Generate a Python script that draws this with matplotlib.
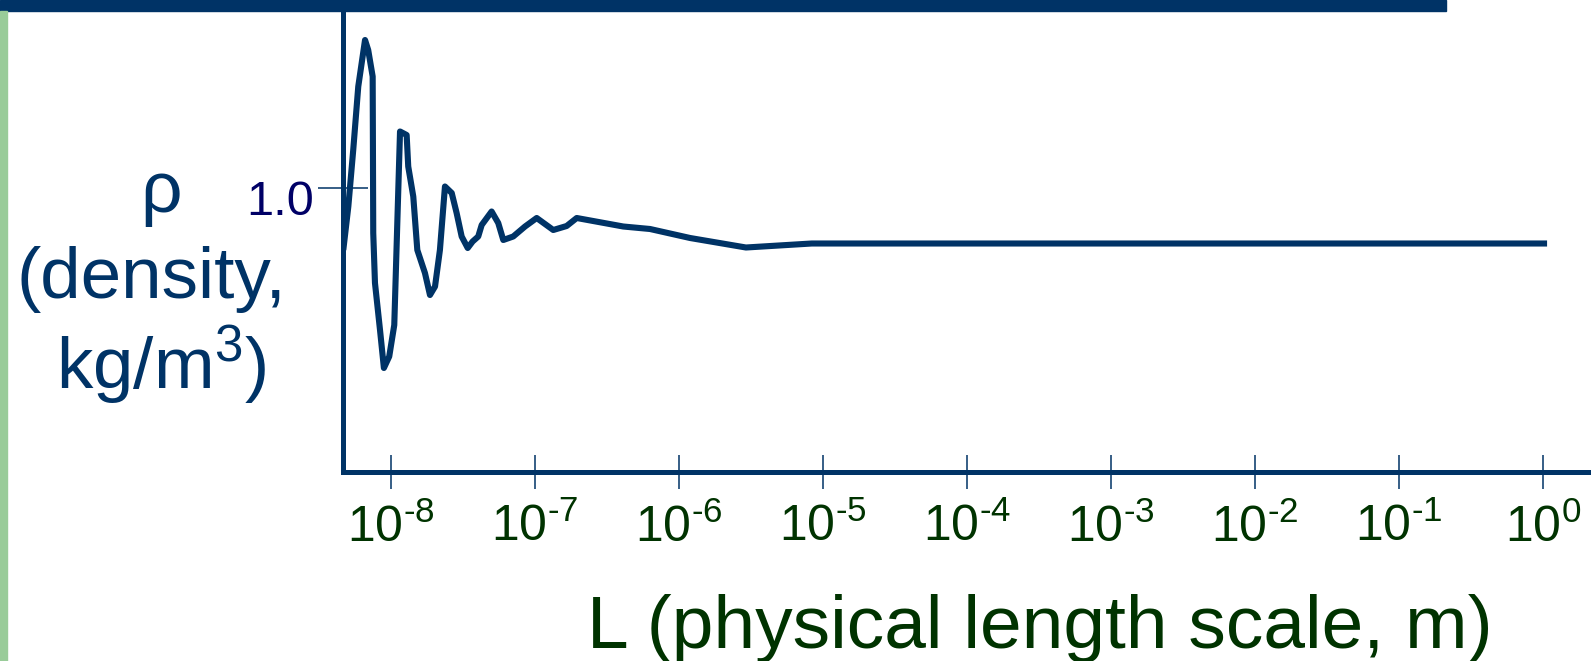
import matplotlib
matplotlib.use('Agg')
import matplotlib.pyplot as plt
import matplotlib.transforms as mtransforms
from matplotlib.patches import Rectangle
import numpy as np

plt.rcParams['font.family'] = ['Liberation Sans', 'DejaVu Sans']
plt.rcParams['mathtext.fontset'] = 'custom'
plt.rcParams['mathtext.rm'] = 'Liberation Sans'
plt.rcParams['mathtext.it'] = 'Liberation Sans:italic'
plt.rcParams['mathtext.bf'] = 'Liberation Sans:bold'

# data: density vs log10 of length scale
L_exp = [-8.329, -8.294, -8.260, -8.225, -8.178, -8.156, -8.125, -8.121, -8.109,
         -8.074, -8.047, -8.010, -7.975, -7.935, -7.889, -7.878, -7.843, -7.815,
         -7.762, -7.727, -7.692, -7.658, -7.623, -7.576, -7.542, -7.507, -7.465,
         -7.431, -7.392, -7.368, -7.299, -7.253, -7.218, -7.149, -7.067, -6.986,
         -6.871, -6.778, -6.708, -6.385, -6.199, -5.921, -5.533, -5.076, -4.797,
         0.030]
rho = [0.875, 0.962, 1.075, 1.202, 1.295, 1.275, 1.222, 0.909, 0.809,
       0.715, 0.639, 0.662, 0.725, 1.112, 1.105, 1.042, 0.982, 0.875,
       0.829, 0.785, 0.802, 0.875, 1.002, 0.989, 0.949, 0.902, 0.879,
       0.892, 0.902, 0.925, 0.952, 0.929, 0.895, 0.902, 0.922, 0.939,
       0.915, 0.923, 0.939, 0.922, 0.917, 0.899, 0.880, 0.888, 0.888,
       0.888]

tick_exps = [-8, -7, -6, -5, -4, -3, -2, -1, 0]
tick_labels = [r'$10^{\text{-8}}$', r'$10^{\text{-7}}$', r'$10^{\text{-6}}$',
               r'$10^{\text{-5}}$', r'$10^{\text{-4}}$', r'$10^{\text{-3}}$',
               r'$10^{\text{-2}}$', r'$10^{\text{-1}}$', r'$10^{0}$']

navy = '#003366'
green_txt = '#003300'

W, H = 1591, 661
fig = plt.figure(figsize=(W / 100, H / 100), dpi=100)
ax = fig.add_axes([343 / W, (H - 472) / H, (W - 343) / W, (472 - 10) / H])

L = 10.0 ** np.array(L_exp)
ax.plot(L, rho, color=navy, lw=4.4, solid_joinstyle='round', solid_capstyle='butt')

ax.set_xscale('log')
ax.set_xlim(10 ** -8.331, 10 ** 0.335)
ax.set_ylim(0.431, 1.355)

ax.set_xticks([10.0 ** e for e in tick_exps])
ax.set_xticklabels(tick_labels)
ax.xaxis.set_minor_locator(matplotlib.ticker.NullLocator())
ax.tick_params(axis='x', direction='inout', length=24, width=1.1, color=navy,
               labelsize=36, labelcolor=green_txt, pad=11)

ax.set_yticks([1.0])
ax.set_yticklabels(['1.0'])
ax.tick_params(axis='y', direction='inout', length=36, width=1.1, color=navy,
               labelsize=35, labelcolor='#000066', pad=3)
offset = mtransforms.ScaledTranslation(0, -10 / 100, fig.dpi_scale_trans)
for lab in ax.get_yticklabels():
    lab.set_transform(lab.get_transform() + offset)

for side in ['top', 'right']:
    ax.spines[side].set_visible(False)
for side in ['left', 'bottom']:
    ax.spines[side].set_color(navy)
    ax.spines[side].set_linewidth(3.6)

# y label, three centred lines
fig.text(161 / W, (H - 212) / H, 'ρ', fontsize=52.5, color=navy,
         ha='center', va='baseline')
fig.text(151 / W, (H - 298) / H, '(density,', fontsize=52.5, color=navy,
         ha='center', va='baseline')
fig.text(161 / W, (H - 388) / H, 'kg/m$^{3}$)', fontsize=52.5, color=navy,
         ha='center', va='baseline')

# x label
fig.text(1040 / W, (H - 648) / H, 'L (physical length scale, m)', fontsize=54,
         color=green_txt, ha='center', va='baseline')

# slide decorations
fig.patches.append(Rectangle((0, 1 - 10.7 / H), 1446 / W, 10.7 / H,
                             transform=fig.transFigure, color=navy, zorder=10))
fig.patches.append(Rectangle((0, 0), 6.9 / W, 1 - 10.7 / H,
                             transform=fig.transFigure, color='#99cc99', zorder=10))

fig.savefig('out.png', dpi=100)
